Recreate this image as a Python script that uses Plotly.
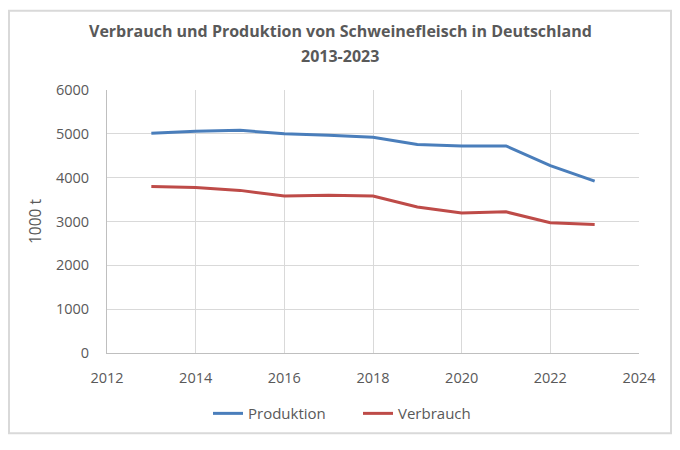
import plotly.graph_objects as go

# Werte (1000 t)
jahre = [2013, 2014, 2015, 2016, 2017, 2018, 2019, 2020, 2021, 2022, 2023]
produktion = [5015, 5060, 5080, 5000, 4965, 4920, 4755, 4725, 4725, 4275, 3920]
verbrauch = [3800, 3775, 3710, 3580, 3600, 3580, 3330, 3195, 3220, 2970, 2930]

titel_1 = "Verbrauch und Produktion von Schweinefleisch in Deutschland"
titel_2 = "2013-2023"

font_name = "Open Sans"
grey = "#595959"
grid = "#d9d9d9"

fig = go.Figure()
fig.add_trace(go.Scatter(x=jahre, y=produktion, mode="lines", name="Produktion",
	line=dict(color="#4a7ebb", width=3)))
fig.add_trace(go.Scatter(x=jahre, y=verbrauch, mode="lines", name="Verbrauch",
	line=dict(color="#be4b48", width=3)))

# die Seite hat 8px Rand, also ist die Figur etwas kleiner
W, H = 664, 434
ml, mr, mt, mb = 99, 33, 82, 83
pw = W - ml - mr
ph = H - mt - mb
mitte = 0.5 - (ml - mr) / 2 / pw  # Bildmitte in Plot-Koordinaten

fig.update_layout(
	width=W, height=H,
	paper_bgcolor="white", plot_bgcolor="white",
	margin=dict(l=ml, r=mr, t=mt, b=mb, pad=0),
	font=dict(family=font_name, color=grey, size=14),
	xaxis=dict(range=[2012, 2024], dtick=2, tick0=2012, showgrid=True, gridcolor=grid,
		gridwidth=1, zeroline=False, showline=True, linecolor="#bfbfbf", linewidth=1,
		ticks="", ticklabelstandoff=12, tickfont=dict(size=14.5)),
	yaxis=dict(range=[0, 6000], dtick=1000, showgrid=True, gridcolor=grid, gridwidth=1,
		zeroline=False, showline=True, linecolor="#bfbfbf", linewidth=1, ticks="",
		ticklabelstandoff=14, tickfont=dict(size=14.5),
		title=dict(text="1000 t", font=dict(size=15.5), standoff=10)),
	legend=dict(orientation="h", x=mitte + 18 / pw, xanchor="center", y=(mt + ph - 413) / ph,
		yanchor="middle", font=dict(size=15), entrywidth=105, entrywidthmode="pixels"),
	showlegend=True,
)

# Titel in zwei Zeilen
fig.add_annotation(text="<b>" + titel_1 + "</b>", xref="paper", yref="paper",
	x=mitte, y=1 + (mt - 22) / ph, xanchor="center", yanchor="middle",
	showarrow=False, font=dict(size=16, color=grey))
fig.add_annotation(text="<b>" + titel_2 + "</b>", xref="paper", yref="paper",
	x=mitte, y=1 + (mt - 47) / ph, xanchor="center", yanchor="middle",
	showarrow=False, font=dict(size=16, color=grey))

# grauer Rahmen um das ganze Bild
fig.add_shape(type="rect", xref="paper", yref="paper",
	x0=-(ml - 1) / pw, x1=1 + (mr - 1) / pw, y0=-(mb - 1) / ph, y1=1 + (mt - 1) / ph,
	line=dict(color="#d9d9d9", width=2), layer="below")

fig.write_html("out.html")
